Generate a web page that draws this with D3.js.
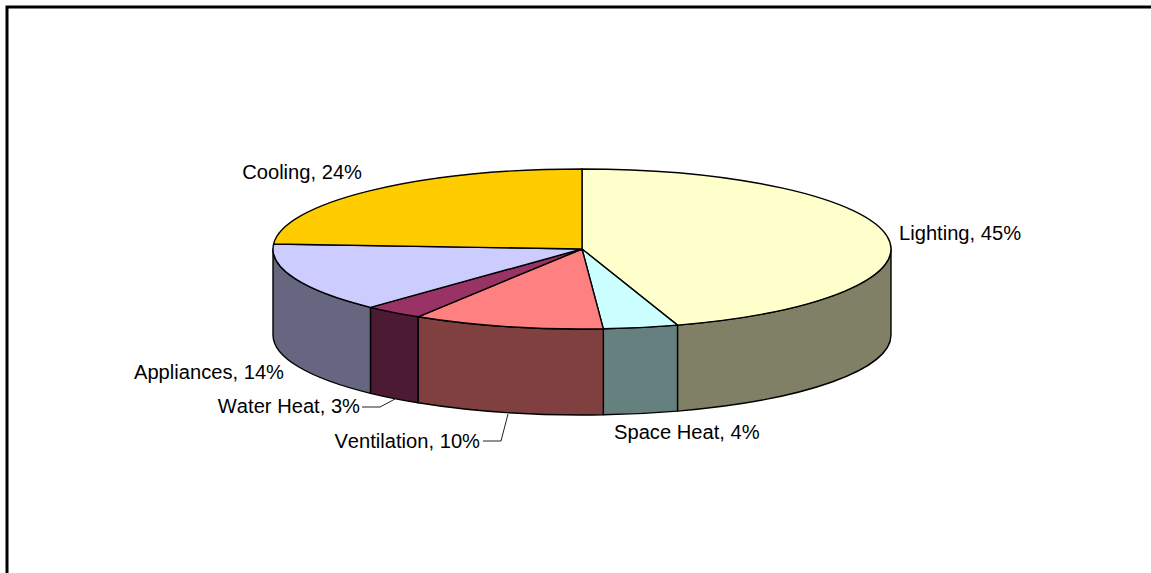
<!DOCTYPE html>
<html><head><meta charset="utf-8">
<style>html,body{margin:0;padding:0;background:#fff}svg{display:block}text{font-family:"Liberation Sans",Arial,sans-serif;font-size:20.15px;font-kerning:none;fill:#000}</style>
<script src="https://cdn.jsdelivr.net/npm/d3@7"></script></head><body>
<script>
const categories = ["Lighting","Space Heat","Ventilation","Water Heat","Appliances","Cooling"];
const values = [45,3.9,10,3.1,14,24];
const topColors = ["#ffffcc","#ccffff","#ff8080","#993366","#ccccff","#ffcc00"];
const sideColors = ["#808066","#668080","#804040","#4d1a33","#666680","#806600"];
const labelAnchors = [[899,240,"start"],[614,439,"start"],[480,448,"end"],[360,413,"end"],[284,379,"end"],[362,179,"end"]];
const leaders = [null,null,[[483,441],[501,441],[508,414]],[[362,407],[380,407],[395,399]],null,null];

const W=1151,H=573,cx=582,cy=249,rx=309,ry=80,depth=86;
const svg=d3.select("body").append("svg").attr("width",W).attr("height",H);
svg.append("path").attr("d",d3.line()([[7,H],[7,7],[W,7]])).attr("fill","none").attr("stroke","#000").attr("stroke-width",3);

const arcs=d3.pie().sort(null)(values);
const px=a=>cx+rx*Math.sin(a), py=a=>cy-ry*Math.cos(a);

// visible side walls: the front half of the ellipse, angles between 90° and 270°
const lo=Math.PI/2, hi=3*Math.PI/2;
svg.append("g").selectAll("path").data(arcs.filter(d=>d.endAngle>lo&&d.startAngle<hi)).join("path")
 .attr("d",d=>{
   const a=Math.max(d.startAngle,lo), b=Math.min(d.endAngle,hi);
   return `M${px(a)},${py(a)}A${rx},${ry} 0 0 1 ${px(b)},${py(b)}L${px(b)},${py(b)+depth}A${rx},${ry} 0 0 0 ${px(a)},${py(a)+depth}Z`;
 })
 .attr("fill",d=>sideColors[d.index]).attr("stroke","#000").attr("stroke-width",1.4).attr("stroke-linejoin","round");

// top face
const arc=d3.arc().innerRadius(0).outerRadius(rx);
svg.append("g").attr("transform",`translate(${cx},${cy}) scale(1,${ry/rx})`)
 .selectAll("path").data(arcs).join("path")
 .attr("d",arc).attr("fill",d=>topColors[d.index])
 .attr("stroke","#000").attr("stroke-width",1.4).attr("vector-effect","non-scaling-stroke").attr("stroke-linejoin","round");

svg.append("g").selectAll("path").data(leaders.filter(Boolean)).join("path")
 .attr("d",d3.line()).attr("fill","none").attr("stroke","#222").attr("stroke-width",1);

svg.append("g").selectAll("text").data(categories).join("text")
 .attr("x",(d,i)=>labelAnchors[i][0]).attr("y",(d,i)=>labelAnchors[i][1])
 .attr("text-anchor",(d,i)=>labelAnchors[i][2])
 .text((d,i)=>`${d}, ${Math.round(values[i])}%`);
</script></body></html>
